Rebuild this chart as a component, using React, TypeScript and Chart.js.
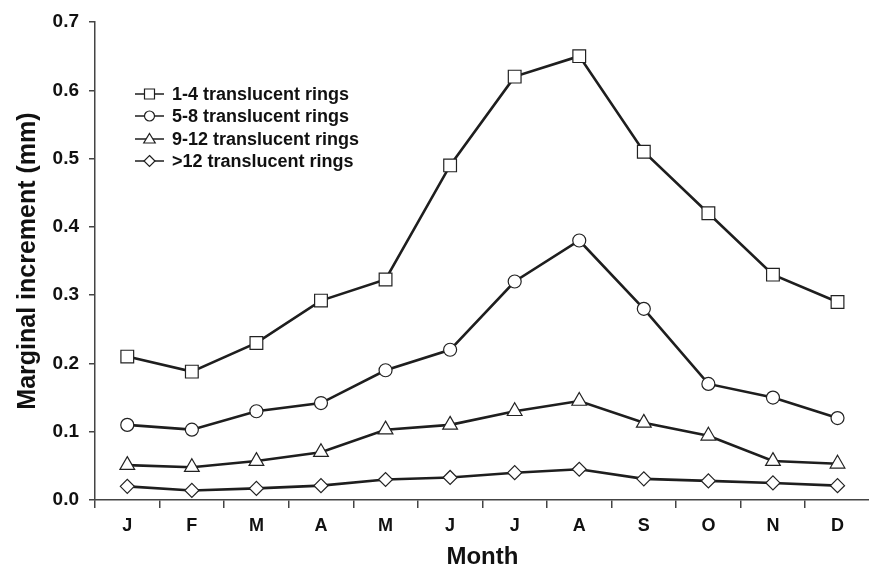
import React, { useEffect, useRef } from 'react';
import { Chart, registerables } from 'chart.js';

Chart.register(...registerables);

const months = ['J', 'F', 'M', 'A', 'M', 'J', 'J', 'A', 'S', 'O', 'N', 'D'];
const seriesNames = ['1-4 translucent rings', '5-8 translucent rings', '9-12 translucent rings', '>12 translucent rings'];
const rings1to4 = [0.21, 0.188, 0.23, 0.292, 0.323, 0.49, 0.62, 0.65, 0.51, 0.42, 0.33, 0.29];
const rings5to8 = [0.11, 0.103, 0.13, 0.142, 0.19, 0.22, 0.32, 0.38, 0.28, 0.17, 0.15, 0.12];
const rings9to12 = [0.051, 0.048, 0.057, 0.07, 0.103, 0.11, 0.13, 0.145, 0.113, 0.094, 0.057, 0.053];
const ringsOver12 = [0.02, 0.014, 0.017, 0.021, 0.03, 0.033, 0.04, 0.045, 0.031, 0.028, 0.025, 0.021];
const yTicks = [0, 0.1, 0.2, 0.3, 0.4, 0.5, 0.6, 0.7];

const styles = ['rect', 'circle', 'triangle', 'rectRot'];
const radii = [9, 6.5, 8.5, 7];
const LINE = '#1e1e1e';
const AXIS = '#444';
const FONT = '"Liberation Sans", Arial, sans-serif';

function drawMarker(ctx: CanvasRenderingContext2D, style: string, x: number, y: number, s: number) {
  ctx.beginPath();
  if (style === 'rect') {
    ctx.rect(x - s, y - s, 2 * s, 2 * s);
  } else if (style === 'circle') {
    ctx.arc(x, y, s, 0, Math.PI * 2);
  } else if (style === 'triangle') {
    ctx.moveTo(x, y - s * 1.1);
    ctx.lineTo(x + s * 1.15, y + s * 0.8);
    ctx.lineTo(x - s * 1.15, y + s * 0.8);
    ctx.closePath();
  } else {
    ctx.moveTo(x, y - s);
    ctx.lineTo(x + s, y);
    ctx.lineTo(x, y + s);
    ctx.lineTo(x - s, y);
    ctx.closePath();
  }
  ctx.fillStyle = '#fff';
  ctx.fill();
  ctx.lineWidth = 1.2;
  ctx.strokeStyle = LINE;
  ctx.stroke();
}

const legendPlugin = {
  id: 'customLegend',
  afterDraw(chart: any) {
    const ctx: CanvasRenderingContext2D = chart.ctx;
    const rowsY = [94, 116, 139, 161];
    ctx.save();
    ctx.font = `bold 18px ${FONT}`;
    ctx.textBaseline = 'middle';
    seriesNames.forEach((name, i) => {
      const y = rowsY[i];
      ctx.beginPath();
      ctx.moveTo(135, y);
      ctx.lineTo(164, y);
      ctx.lineWidth = 1.5;
      ctx.strokeStyle = LINE;
      ctx.stroke();
      drawMarker(ctx, styles[i], 149.5, y, i === 3 ? 5.5 : 5);
      ctx.fillStyle = '#111';
      ctx.fillText(name, 172, y + 1);
    });
    ctx.restore();
  },
};

export default function App() {
  const ref = useRef<HTMLCanvasElement>(null);
  useEffect(() => {
    if (!ref.current) return;
    const all = [rings1to4, rings5to8, rings9to12, ringsOver12];
    const chart = new Chart(ref.current, {
      type: 'line',
      data: {
        labels: months,
        datasets: all.map((d, i) => ({
          label: seriesNames[i],
          data: d,
          borderColor: LINE,
          borderWidth: 2.6,
          pointStyle: styles[i] as any,
          pointRadius: radii[i],
          pointBackgroundColor: '#fff',
          pointBorderColor: '#222',
          pointBorderWidth: 1.2,
          tension: 0,
          clip: false as any,
        })),
      },
      options: {
        animation: false,
        responsive: false,
        devicePixelRatio: 1,
        layout: { padding: { left: 8, top: 22, right: 5, bottom: 0 } },
        plugins: { legend: { display: false }, tooltip: { enabled: false } },
        scales: {
          x: {
            type: 'category',
            offset: true,
            grid: { offset: true, drawOnChartArea: false, drawTicks: true, tickLength: 8, color: AXIS, lineWidth: 1.5 },
            border: { color: AXIS, width: 1.5 },
            ticks: { color: '#111', font: { family: FONT, size: 18, weight: 'bold' }, padding: 7, maxRotation: 0, autoSkip: false },
            title: { display: true, text: 'Month', color: '#111', font: { family: FONT, size: 24, weight: 'bold' }, padding: { top: 0, bottom: 0 } },
            afterFit: (scale: any) => { scale.height = 72; },
          },
          y: {
            min: 0,
            max: 0.7,
            afterBuildTicks: (scale: any) => { scale.ticks = yTicks.map((v) => ({ value: v })); },
            grid: { drawOnChartArea: false, drawTicks: true, tickLength: 6, color: AXIS, lineWidth: 1.5 },
            border: { color: AXIS, width: 1.5 },
            ticks: { color: '#111', font: { family: FONT, size: 19, weight: 'bold' }, padding: 10, callback: (v: any) => Number(v).toFixed(1) },
            title: { display: true, text: 'Marginal increment (mm)', color: '#111', font: { family: FONT, size: 25, weight: 'bold' }, padding: { top: 5, bottom: 0 } },
            afterFit: (scale: any) => { scale.width = 87; },
          },
        },
      },
      plugins: [legendPlugin],
    });
    return () => chart.destroy();
  }, []);
  return (
    <div style={{ position: 'absolute', left: 0, top: 0, width: 869, height: 572, overflow: 'hidden', background: '#fff' }}>
      <canvas ref={ref} width={880} height={572} style={{ display: 'block' }} />
    </div>
  );
}
